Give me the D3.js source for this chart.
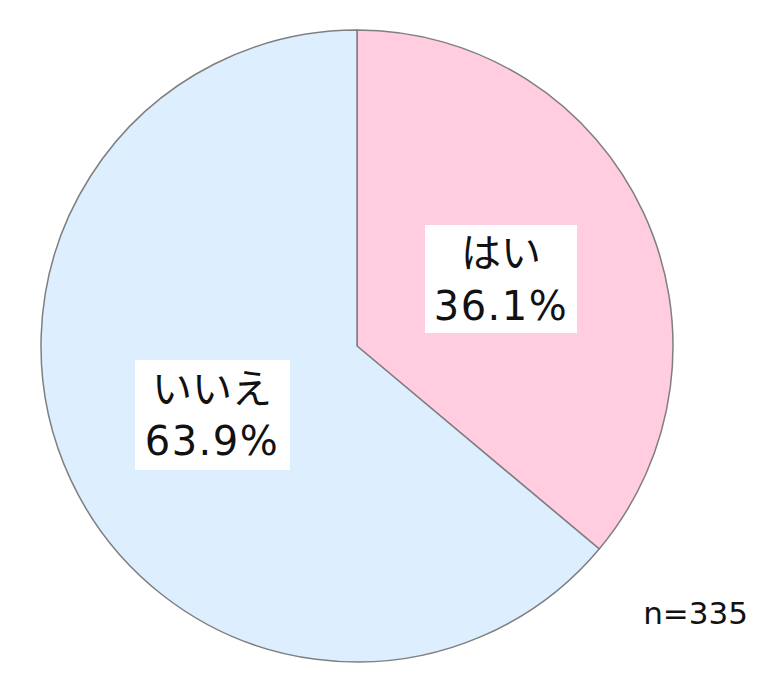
<!DOCTYPE html>
<html><head><meta charset="utf-8">
<script src="https://cdn.jsdelivr.net/npm/d3@7"></script>
<style>body{margin:0;background:#fff;}svg{display:block;}</style>
</head><body>
<svg id="c" width="767" height="674"></svg>
<script>
const categories = ["はい", "いいえ"];
const values = [36.1, 63.9];
const colors = ["#FFCCE0", "#DDEEFE"];
const sampleNote = "n=335";

const svg = d3.select("#c");
const cx = 357, cy = 346, r = 316;
const g = svg.append("g").attr("transform", `translate(${cx},${cy})`);
const pie = d3.pie().sort(null).value(d => d.v);
const data = pie(categories.map((c, i) => ({c, v: values[i], col: colors[i]})));
const arc = d3.arc().innerRadius(0).outerRadius(r);
g.selectAll("path").data(data).join("path")
  .attr("d", arc).attr("fill", d => d.data.col)
  .attr("stroke", "#7f7f7f").attr("stroke-width", 1.5);

const jfont = "'Noto Sans CJK JP', sans-serif";
const nfont = "'DejaVu Sans', sans-serif";
const boxes = [
  {x: 425, y: 225, w: 152, h: 108, l1y: 267, l2y: 320, cx: 501},
  {x: 135, y: 360, w: 155, h: 110, l1y: 403, l2y: 455, cx: 212}
];
data.forEach((d, i) => {
  const b = boxes[i];
  svg.append("rect").attr("x", b.x).attr("y", b.y).attr("width", b.w).attr("height", b.h).attr("fill", "#fff");
  svg.append("text").attr("x", b.cx).attr("y", b.l1y).attr("text-anchor", "middle")
    .attr("font-family", jfont).attr("font-size", 40).attr("fill", "#111").text(d.data.c);
  svg.append("text").attr("x", b.cx).attr("y", b.l2y).attr("text-anchor", "middle")
    .attr("font-family", nfont).attr("font-size", 40).attr("letter-spacing", 1.5).attr("fill", "#111")
    .text(d3.format(".1f")(d.data.v) + "%");
});
svg.append("text").attr("x", 748).attr("y", 624).attr("text-anchor", "end")
  .attr("font-family", nfont).attr("font-size", 31).attr("fill", "#111").text(sampleNote);
</script>
</body></html>
